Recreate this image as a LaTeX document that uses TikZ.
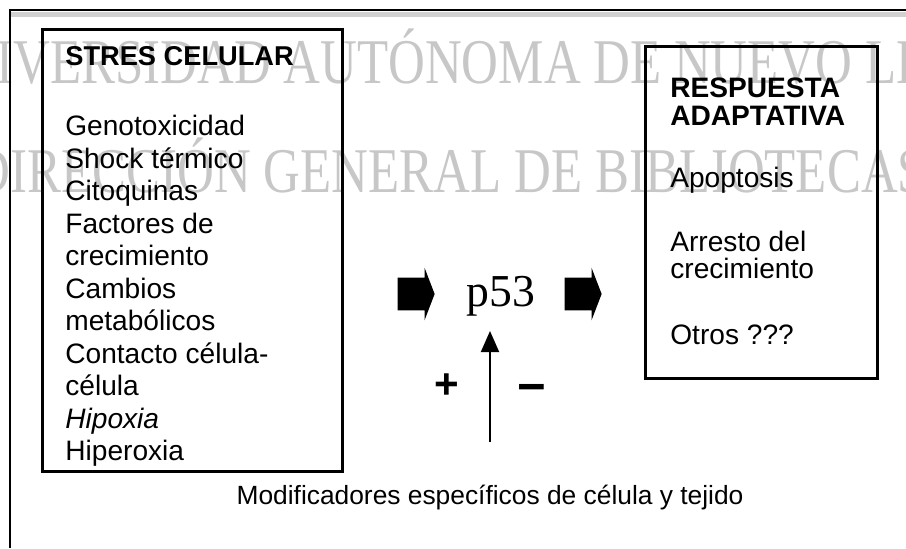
\documentclass[tikz,border=0pt]{standalone}
\usepackage{fontspec}
\setmainfont{Liberation Sans}
\newfontfamily\timesfont{Liberation Serif}
\usetikzlibrary{shapes.arrows,arrows.meta}

\tikzset{
  caja/.style={draw,rectangle,line width=1.7pt},
  lista/.style={align=left,inner sep=0pt,
                font=\fontsize{16pt}{18.5pt}\selectfont},
  titulo/.style={align=left,inner sep=0pt,
                 font=\fontsize{15.5pt}{15pt}\selectfont\bfseries},
  flecha/.style={single arrow,fill=black,inner xsep=0pt,inner ysep=0.32cm,
                 minimum height=0.74cm,single arrow head extend=0.2cm,
                 single arrow tip angle=138},
  marca/.style={text=black!22,font=\fontsize{29pt}{29pt}\timesfont}}
\newcommand{\alto}[1]{\scalebox{1}[1.25]{#1}}

\begin{document}
\begin{tikzpicture}[x=0.02cm,y=-0.02cm]
\useasboundingbox (0,0) rectangle (906,548);
% marca de agua
\node (wm1) at (462,57) [marca] {\alto{UNIVERSIDAD AUTÓNOMA DE NUEVO LEÓN}};
\node (wm2) at (450,165) [marca] {\alto{DIRECCIÓN GENERAL DE BIBLIOTECAS}};
% marco exterior
\fill [black!18] (10,12) rectangle (906,17);
\draw [line width=1.4pt] (906,10) -- (10,10) -- (10,548);

\node (estres) at (192.5,250.5) [caja,minimum width=6.02cm,minimum height=8.86cm] {};
\node (tit1) at (65,56) [titulo,anchor=west] {STRES CELULAR};
\node (lst1) at (65,115) [lista,anchor=north west]
  {Genotoxicidad\\Shock térmico\\Citoquinas\\Factores de\\crecimiento\\Cambios\\metabólicos\\Contacto célula-\\célula\\\textit{Hipoxia}\\Hiperoxia};

\node (resp) at (761.5,212.5) [caja,minimum width=4.66cm,minimum height=6.66cm] {};
\node (tit2) at (670,78) [titulo,anchor=north west,
  font=\fontsize{16pt}{15.5pt}\selectfont\bfseries] {RESPUESTA\\ADAPTATIVA};
\node (apo) at (670,180) [lista,anchor=west] {Apoptosis};
\node (arr) at (670,231) [lista,anchor=north west,
  font=\fontsize{16pt}{15pt}\selectfont] {Arresto del\\crecimiento};
\node (otr) at (670,335) [lista,anchor=west] {Otros ???};

\node (fl1) at (413,294) [flecha] {};
\node (p53) at (501,296) [font=\fontsize{26pt}{26pt}\timesfont] {p53};
\node (fl2) at (580,294) [flecha] {};

\coordinate (base) at (490,442);
\coordinate (tope) at (490,331);
\draw [-{Triangle[width=0.36cm,length=0.42cm]},line width=1.1pt] (base) -- (tope);
\node (mas) at (447,386) [font=\fontsize{24pt}{24pt}\selectfont\bfseries] {+};
\node (menos) at (532,394) [font=\fontsize{28pt}{28pt}\selectfont\bfseries] {−};

\node (mod) at (490,498) [font=\fontsize{15pt}{15pt}\selectfont]
  {Modificadores específicos de célula y tejido};
\end{tikzpicture}
\end{document}
